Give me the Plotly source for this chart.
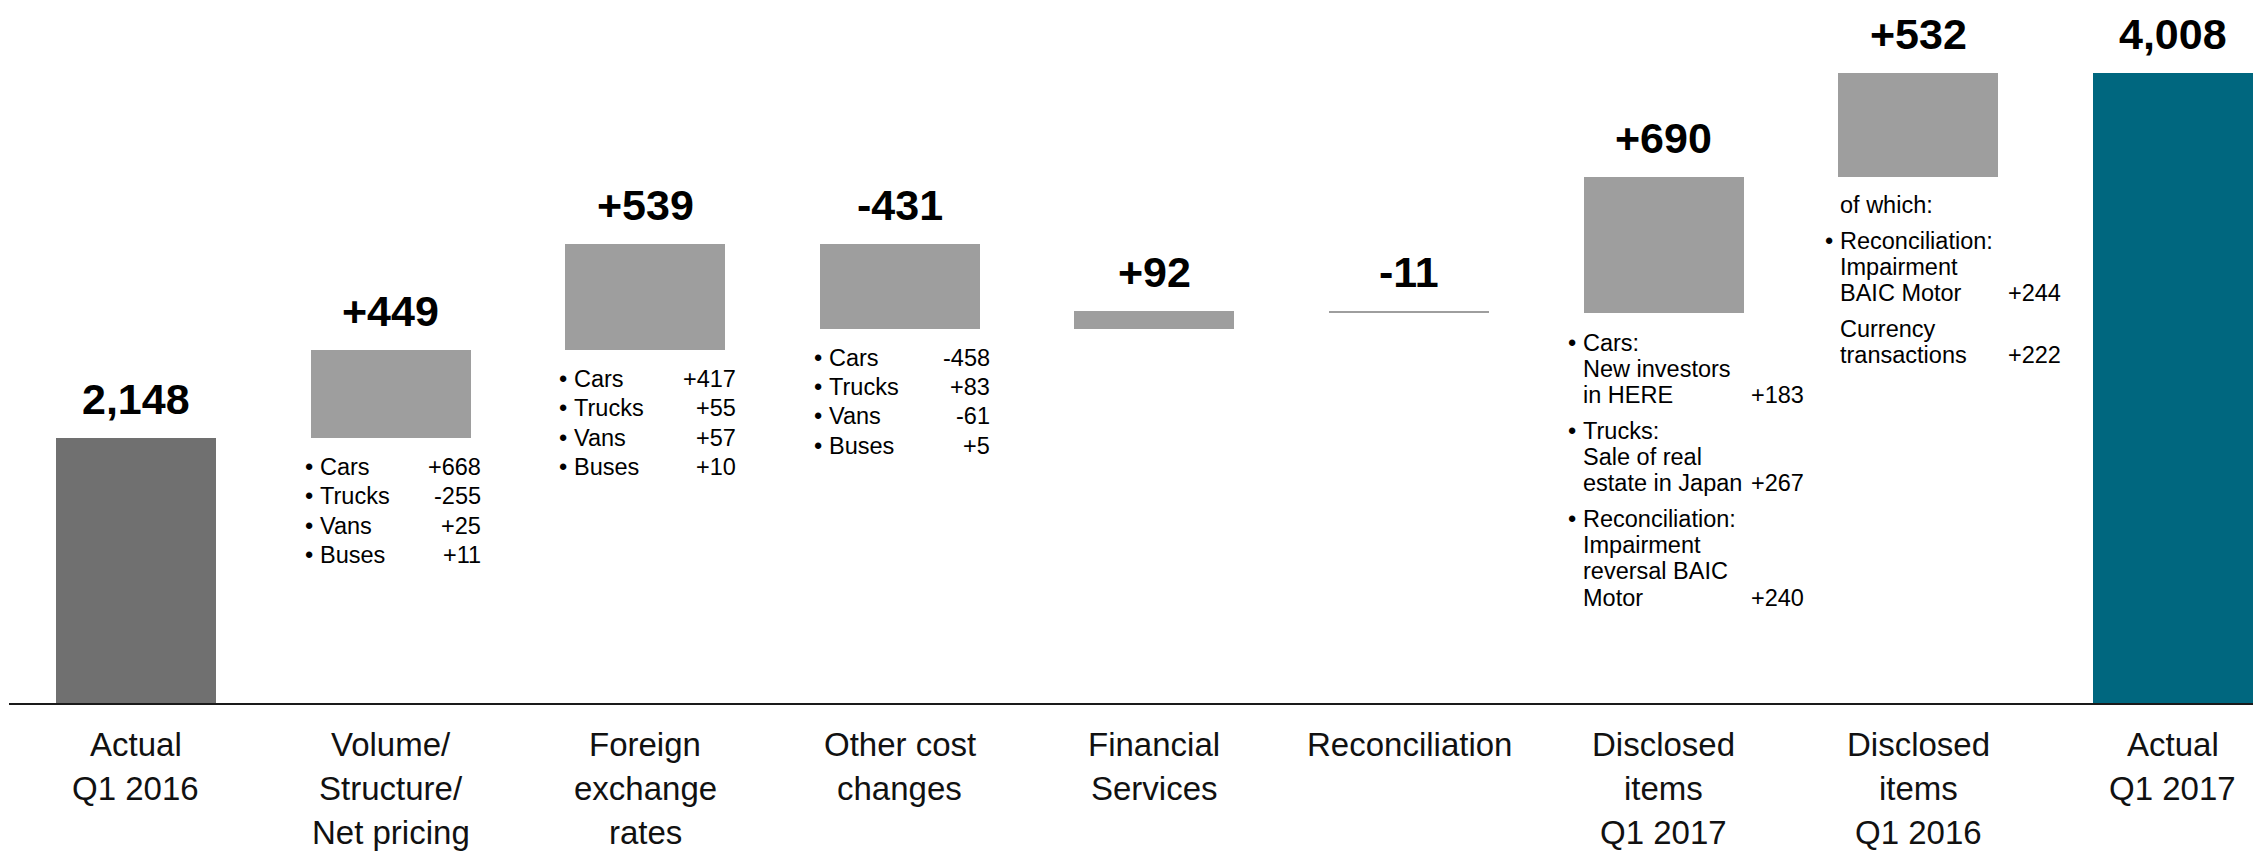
import plotly.graph_objects as go

# ---------------- data ----------------
categories = [
    "Actual\nQ1 2016",
    "Volume/\nStructure/\nNet pricing",
    "Foreign\nexchange\nrates",
    "Other cost\nchanges",
    "Financial\nServices",
    "Reconciliation",
    "Disclosed\nitems\nQ1 2017",
    "Disclosed\nitems\nQ1 2016",
    "Actual\nQ1 2017",
]
values = [2148, 449, 539, -431, 92, -11, 690, 532, 4008]
measures = ["absolute", "relative", "relative", "relative", "relative",
            "relative", "relative", "relative", "total"]

volume_names = ["Cars", "Trucks", "Vans", "Buses"]
volume_values = [668, -255, 25, 11]
fx_names = ["Cars", "Trucks", "Vans", "Buses"]
fx_values = [417, 55, 57, 10]
other_names = ["Cars", "Trucks", "Vans", "Buses"]
other_values = [-458, 83, -61, 5]

disclosed17_lines = [["Cars:", "New investors", "in HERE"],
                     ["Trucks:", "Sale of real", "estate in Japan"],
                     ["Reconciliation:", "Impairment", "reversal BAIC", "Motor"]]
disclosed17_values = [183, 267, 240]
disclosed17_bullets = [True, True, True]

disclosed16_header = "of which:"
disclosed16_lines = [["Reconciliation:", "Impairment", "BAIC Motor"],
                     ["Currency", "transactions"]]
disclosed16_values = [244, 222]
disclosed16_bullets = [True, False]

# ---------------- styling ----------------
FONT = "Liberation Sans, Arial, Helvetica, sans-serif"
GRAY = "#9e9e9e"
START_COLOR = "#707070"
END_COLOR = "#00677f"
BAR_W = 0.628
Y_MIN, Y_MAX = 797.6, 4380
SMALL = 23.5
SMALL_BASE = 0.3465 * SMALL  # baseline offset from text centre

# ---------------- compute waterfall ----------------
bases, heights, colors = [], [], []
level = 0
for v, m in zip(values, measures):
    if m == "relative":
        bases.append(level)
        heights.append(v)
        level += v
        colors.append(GRAY)
    else:
        bases.append(0)
        heights.append(v)
        level = v
        colors.append(START_COLOR if m == "absolute" else END_COLOR)

xs = list(range(len(categories)))

fig = go.Figure()
fig.add_trace(go.Bar(
    x=xs, y=heights, base=bases, width=BAR_W,
    marker=dict(color=colors, line=dict(width=0)),
    hoverinfo="skip", showlegend=False,
))

annotations = []

# value labels above bars
for i, (b, h, m) in enumerate(zip(bases, heights, measures)):
    top = max(b, b + h)
    label = f"{h:,}" if m != "relative" else f"{h:+d}"
    annotations.append(dict(
        x=i, y=top, xref="x", yref="y", text=f"<b>{label}</b>",
        showarrow=False, xanchor="center", yanchor="middle", yshift=39,
        font=dict(family=FONT, size=43, color="#000000"),
    ))

# category labels below axis
for i, cat in enumerate(categories):
    for j, line in enumerate(cat.split("\n")):
        annotations.append(dict(
            x=i, y=0, xref="x", yref="paper", text=line, showarrow=False,
            xanchor="center", yanchor="middle", yshift=-(41.3 + j * 44.3),
            font=dict(family=FONT, size=33, color="#111111"),
        ))


def add_breakdown(i, blocks, text_dx, value_dx, first, line_sp, block_gap,
                  bullet_gap):
    b, h = bases[i], heights[i]
    bottom = min(b, b + h)
    left = i - BAR_W / 2
    right = i + BAR_W / 2
    cur = first
    for lines, val, bullet in blocks:
        for j, line in enumerate(lines):
            ys = -(cur - SMALL_BASE)
            annotations.append(dict(
                x=left, y=bottom, xref="x", yref="y", text=line,
                showarrow=False, xanchor="left", yanchor="middle",
                xshift=text_dx, yshift=ys,
                font=dict(family=FONT, size=SMALL, color="#000000")))
            if j == 0 and bullet:
                annotations.append(dict(
                    x=left, y=bottom, xref="x", yref="y", text="•",
                    showarrow=False, xanchor="right", yanchor="middle",
                    xshift=text_dx - bullet_gap, yshift=ys,
                    font=dict(family=FONT, size=SMALL, color="#000000")))
            if j == len(lines) - 1 and val is not None:
                annotations.append(dict(
                    x=right, y=bottom, xref="x", yref="y", text=f"{val:+d}",
                    showarrow=False, xanchor="right", yanchor="middle",
                    xshift=value_dx, yshift=ys,
                    font=dict(family=FONT, size=SMALL, color="#000000")))
            if j < len(lines) - 1:
                cur += line_sp
        cur += block_gap


simple = [(1, volume_names, volume_values),
          (2, fx_names, fx_values),
          (3, other_names, other_values)]
for i, names, vals in simple:
    blocks = [([n], v, True) for n, v in zip(names, vals)]
    add_breakdown(i, blocks, text_dx=7, value_dx=12.5, first=37.3,
                  line_sp=29.3, block_gap=29.3, bullet_gap=3)

blocks17 = list(zip(disclosed17_lines, disclosed17_values, disclosed17_bullets))
add_breakdown(6, blocks17, text_dx=-3, value_dx=62, first=38,
              line_sp=26.3, block_gap=35.5, bullet_gap=3)

blocks16 = [([disclosed16_header], None, False)] + \
    list(zip(disclosed16_lines, disclosed16_values, disclosed16_bullets))
add_breakdown(7, blocks16, text_dx=0, value_dx=65, first=35.7,
              line_sp=26, block_gap=36, bullet_gap=3)

fig.update_layout(
    width=2253, height=852,
    margin=dict(l=9, r=0, t=0, b=149),
    paper_bgcolor="white", plot_bgcolor="white",
    bargap=0,
    xaxis=dict(range=[-0.4988, 8.315], showline=True, linecolor="#1a1a1a",
               linewidth=1.5, showticklabels=False, showgrid=False,
               zeroline=False, ticks=""),
    yaxis=dict(range=[Y_MIN, Y_MAX], visible=False, showgrid=False,
               zeroline=False),
    annotations=annotations,
    font=dict(family=FONT),
)

fig.write_html(
    "out.html",
    config={"displayModeBar": False},
    post_script="document.body.style.margin='0';"
                "document.body.style.overflow='hidden';",
)
